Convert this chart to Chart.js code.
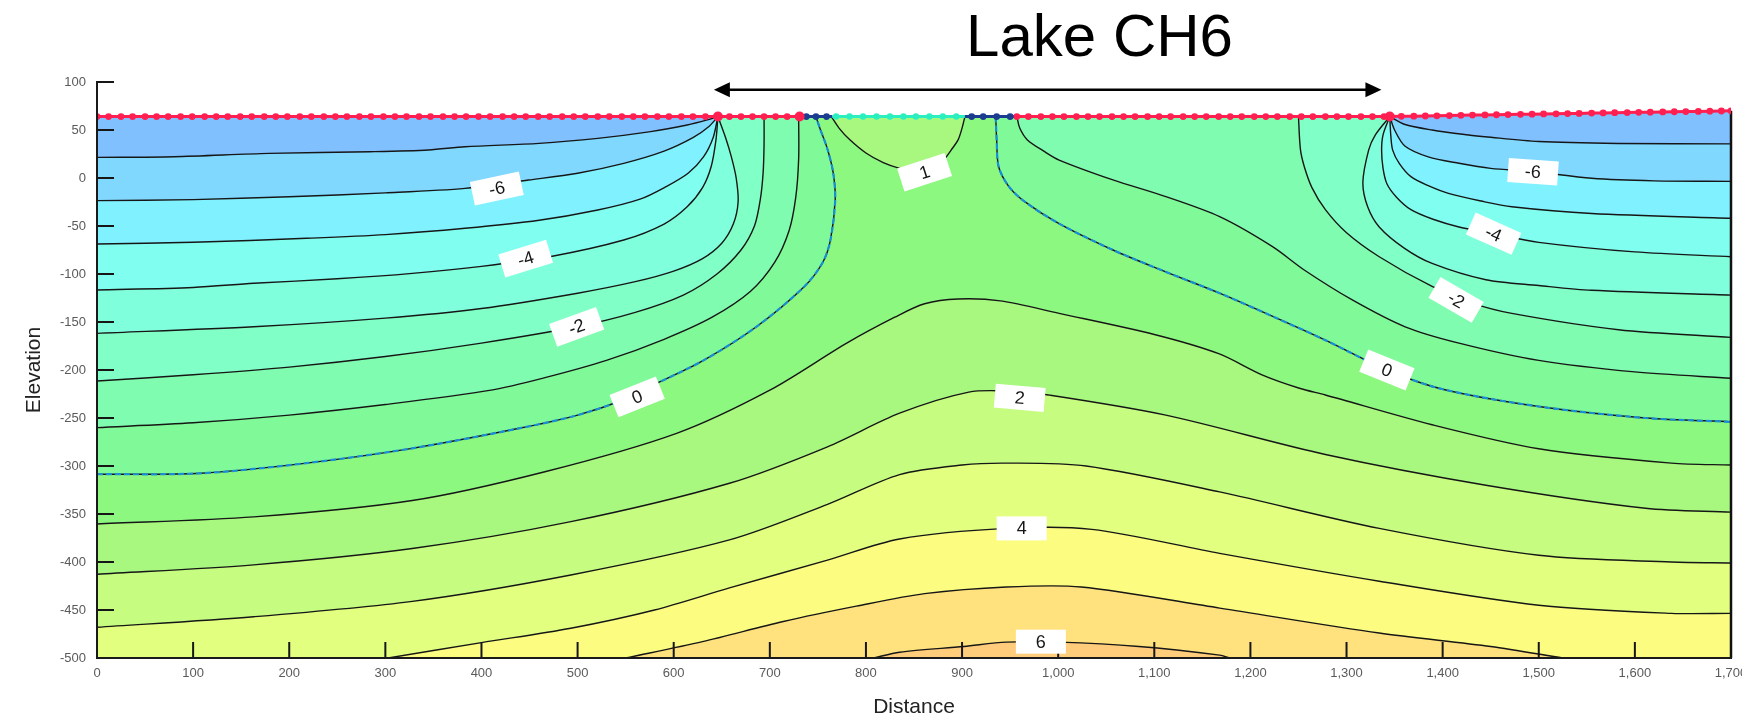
<!DOCTYPE html>
<html>
<head>
<meta charset="utf-8">
<title>Lake CH6</title>
<script src="https://cdn.jsdelivr.net/npm/chart.js@4.4.1/dist/chart.umd.min.js"></script>
<style>
  html, body { margin: 0; padding: 0; background: #ffffff; }
  #wrap { width: 1742px; height: 721px; }
  canvas { display: block; }
</style>
</head>
<body>
<div id="wrap"><canvas id="section" width="1742" height="721"></canvas></div>
<script>
// ---------------------------------------------------------------------------
// Cross-section geometry (distance, elevation)
// ---------------------------------------------------------------------------
const SURFACE_ELEV = 64;                 // flat ground / lake bed elevation
const DOMAIN_BOTTOM = -500;
const DOMAIN_RIGHT = 1700;

// surface mesh nodes on the flat part of the ground line
const redWestNodes = [0, 12, 25, 37, 50, 62, 74, 87, 99, 112, 124, 136, 149, 161, 174, 186, 198, 211, 223, 236,
  248, 260, 273, 285, 298, 310, 322, 335, 347, 360, 372, 384, 397, 409, 422, 434, 446, 459, 471, 484, 496, 508,
  521, 533, 546, 558, 570, 583, 595, 608, 620, 633, 646, 658, 670, 682, 694, 706, 718, 731];
const darkBlueWestNodes = [738, 748, 759];
const cyanNodes = [769, 783, 797, 811, 825, 839, 852, 866, 880, 894];
const darkBlueEastNodes = [910, 922, 936, 950];
const redEastNodes = [957, 969, 982, 994, 1006, 1019, 1031, 1043, 1056, 1068, 1080, 1093, 1105, 1117, 1130, 1142,
  1154, 1167, 1179, 1191, 1204, 1216, 1228, 1241, 1253, 1265, 1278, 1290, 1302, 1315, 1327, 1339, 1345];
// nodes where the ground rises towards the east edge
const risingNodes = [[1357, 64.2], [1370, 64.4], [1382, 64.6], [1394, 64.8], [1407, 65.0], [1419, 65.3],
  [1431, 65.5], [1444, 65.7], [1456, 65.9], [1468, 66.1], [1481, 66.3], [1493, 66.5], [1505, 66.7], [1518, 66.9],
  [1530, 67.1], [1542, 67.3], [1555, 67.6], [1567, 67.8], [1579, 68.0], [1592, 68.2], [1604, 68.4], [1616, 68.6],
  [1629, 68.8], [1641, 69.0], [1653, 69.2], [1666, 69.4], [1678, 69.6], [1690, 69.8], [1700, 70]];
const largeNodes = [646, 731, 1345];
// surface stretches: red | dark blue | cyan | dark blue | red
const stretchBounds = [731, 765, 903, 957];

// ---------------------------------------------------------------------------
// Head contours (distance, elevation)
// ---------------------------------------------------------------------------
const headM7West = [[0, 21.5], [80, 22.2], [179, 25.7], [284, 27.4], [345, 29.2], [383, 32.6], [460, 36.1], [521, 41.3], [576, 48.3], [614, 55.2], [635, 60.5], [646, 64]];
const headM6West = [[0, -23.6], [100, -22.5], [200, -19.5], [300, -15.5], [383, -10.8], [449, -2.1], [500, 5], [548, 15.3], [590, 28], [620, 42], [637, 54], [646, 64]];
const headM5West = [[0, -68.7], [100, -67], [218, -62.8], [300, -59], [383, -52.4], [460, -44], [521, -33.3], [565, -22], [592, -9], [615, 5], [631, 22], [641, 42], [646, 64]];
const headM4West = [[0, -116.7], [100, -114], [163, -109.7], [250, -105], [328, -99.3], [400, -92], [471, -82], [548, -64.6], [590, -48], [614, -30], [630, -10], [639, 12], [644, 40], [646, 64]];
const headM3West = [[0, -161.8], [163, -155], [300, -146], [400, -136], [500, -120], [560, -108], [600, -97], [630, -84], [650, -68], [662, -48], [667, -25], [665, 0], [660, 22], [654, 42], [646, 64]];
const headM2West = [[0, -211.5], [100, -205], [200, -197], [300, -186], [400, -172], [499, -155], [560, -140], [610, -122], [645, -100], [670, -75], [684, -50], [690, -23], [693, 5], [694, 35], [694, 64]];
const headM1West = [[0, -260], [100, -255], [200, -247], [300, -236], [410, -221], [466, -208], [530, -190], [590, -168], [640, -145], [680, -118], [705, -88], [720, -55], [727, -20], [730, 20], [730, 64]];
const headZeroWest = [[0, -308.6], [108, -307.6], [218, -297], [328, -281.6], [438, -261], [500, -247], [548, -231], [576, -217], [631, -190], [686, -155], [736, -113], [755, -88], [763, -65], [768, -23], [766, 5], [760, 30], [752, 52], [748, 64]];

const headZeroEast = [[935, 64], [936, 40], [938, 12], [948, -8], [963, -23], [1000, -47], [1057, -75], [1110, -97], [1168, -120], [1225, -145], [1278, -169], [1342, -200], [1400, -220], [1500, -238], [1611, -250], [1700, -254]];
const headM1East = [[957, 64], [960, 52], [968, 39.6], [985, 28], [1001, 18.7], [1057, -2], [1112, -19.4], [1168, -40.3], [1223, -71.5], [1256, -95.8], [1306, -127], [1361, -155], [1417, -172], [1500, -190], [1600, -202], [1700, -208.6]];
const headM2East = [[1250, 64], [1252, 30], [1256, 12], [1264, -10], [1278, -33], [1300, -57], [1334, -82], [1389, -113], [1430, -130], [1472, -141], [1583, -158], [1700, -166]];
const headM3East = [[1345, 64], [1330, 45], [1323, 29], [1317, -5], [1322, -30], [1334, -51], [1360, -73], [1389, -89], [1445, -106], [1500, -112], [1555, -117], [1700, -122]];
const headM4East = [[1345, 64], [1338, 45], [1336.5, 29], [1338, 10], [1342, -6], [1352, -20], [1367, -33], [1390, -43], [1417, -51], [1453, -58], [1500, -67], [1600, -77], [1700, -82]];
const headM5East = [[1345, 64], [1346, 45], [1348, 29], [1355, 15], [1367, 1.4], [1385, -8], [1406, -16], [1440, -24], [1472, -30], [1555, -37], [1700, -42]];
const headM6East = [[1345, 64], [1350, 50], [1361, 33], [1385, 22], [1417, 15.3], [1450, 10], [1494, 6.6], [1555, -0.3], [1620, -3], [1700, -3.5]];
const headM7East = [[1345, 64], [1360, 56], [1389, 50], [1425, 45], [1444, 43], [1500, 38], [1583, 36], [1700, 35.5]];

const headOneBowl = [[764, 64], [772, 52], [783, 40], [800, 26], [818, 16], [835, 10], [850, 7], [861, 6], [872, 10], [882, 20], [890, 31], [896, 40], [900, 52], [903, 64]];
const headOne = [[0, -360.4], [163, -353], [328, -336], [466, -306], [603, -266], [700, -221], [780, -172], [830, -145], [861, -131], [896, -126], [940, -128], [1001, -141], [1100, -163], [1167, -183], [1212, -205], [1251, -219], [1278, -226], [1389, -257], [1500, -282], [1638, -297], [1700, -299]];
const headTwo = [[0, -412.8], [163, -403], [328, -386], [493, -358], [658, -318], [760, -280], [835, -245], [907, -223], [950, -222], [990, -226], [1112, -247], [1278, -288], [1445, -320], [1611, -344], [1700, -348]];
const headThree = [[0, -468], [163, -457], [328, -441], [493, -413.5], [658, -377], [760, -340], [835, -309], [900, -299], [946, -297], [1029, -300], [1168, -327], [1334, -365], [1500, -393], [1638, -400], [1700, -401]];
const headFour = [[303, -500], [400, -484], [493, -469], [580, -450], [658, -427], [760, -398], [835, -376], [946, -365], [1035, -366], [1168, -391], [1334, -420], [1500, -445], [1638, -453.5], [1700, -453.5]];
const headFive = [[550, -500], [630, -483], [714, -462], [790, -446], [861, -433], [946, -426], [1024, -426], [1168, -448], [1334, -474], [1450, -488], [1525, -500]];
const headSix = [[808, -500], [835, -494], [902, -488], [946, -483.5], [1001, -483.5], [1084, -488], [1168, -497], [1178, -500]];

// contour labels
const labelTexts = ['-6', '-4', '-2', '0', '1', '2', '4', '6', '-6', '-4', '-2', '0'];
const labelDist = [416, 446, 499, 562, 861, 960, 962, 982, 1494, 1453, 1414, 1342];
const labelElev = [-11, -84, -155, -228, 6, -229, -365, -483, 6.6, -58, -127, -200];
const labelAngle = [-12, -17, -20, -22, -18, 5, 0, 0, 4, 24, 30, 22];

// lake extent marker
const lakeSpan = [641.8, 1336.3];
const lakeArrowElev = 92;
const lakeTitleDist = 1043;

// band colours, lowest head first
const bandColours = ['#80c0ff', '#80d8ff', '#80f1ff', '#80fff0', '#80ffdc', '#80ffc6', '#80fcb0',
  '#80f998', '#8cf880', '#a8f880', '#c6fc80', '#e2ff80', '#fbfc80', '#ffe27e', '#ffcc7c'];

// ---------------------------------------------------------------------------
const TENSION = 0.3;
const FONT = "'Liberation Sans', Arial, Helvetica, sans-serif";
const toXY = arr => arr.map(([x, y]) => ({x, y}));
const flat = xs => xs.map(x => ({x, y: SURFACE_ELEV}));
const CORNER_E = [[DOMAIN_RIGHT, DOMAIN_BOTTOM]];
const CORNER_W = [[0, DOMAIN_BOTTOM]];

// closed outline made of several pieces, each end doubled so joins stay sharp
function outline(parts) {
  const out = [];
  parts.forEach(p => { out.push(p[0]); p.forEach(q => out.push(q)); out.push(p[p.length - 1]); });
  return toXY(out);
}
function area(parts, colour) {
  return {data: outline(parts), showLine: true, fill: 'shape', backgroundColor: colour,
    borderColor: 'rgba(0,0,0,0)', borderWidth: 0, pointRadius: 0, tension: TENSION};
}
function contour(arr, extra) {
  return Object.assign({data: toXY(arr), showLine: true, fill: false, borderColor: '#161616',
    borderWidth: 1.4, pointRadius: 0, tension: TENSION}, extra || {});
}
function surfaceLine(pts, colour) {
  return {data: pts, showLine: true, fill: false, borderColor: colour, borderWidth: 3,
    pointRadius: 0, tension: 0};
}
function nodes(pts, colour, r) {
  return {data: pts, showLine: false, pointRadius: r, pointBackgroundColor: colour,
    pointBorderWidth: 0, pointHoverRadius: r};
}

const datasets = [];
// ground region, lowest band
datasets.push(area([[[0, SURFACE_ELEV]], [[1345, SURFACE_ELEV]], [[DOMAIN_RIGHT, 70]], CORNER_E, CORNER_W], bandColours[0]));
// regions above each head level, painted upward
datasets.push(area([headM7West, headM7East, CORNER_E, CORNER_W], bandColours[1]));
datasets.push(area([headM6West, headM6East, CORNER_E, CORNER_W], bandColours[2]));
datasets.push(area([headM5West, headM5East, CORNER_E, CORNER_W], bandColours[3]));
datasets.push(area([headM4West, headM4East, CORNER_E, CORNER_W], bandColours[4]));
datasets.push(area([headM3West, headM3East, CORNER_E, CORNER_W], bandColours[5]));
datasets.push(area([headM2West, headM2East, CORNER_E, CORNER_W], bandColours[6]));
datasets.push(area([headM1West, headM1East, CORNER_E, CORNER_W], bandColours[7]));
datasets.push(area([headZeroWest, headZeroEast, CORNER_E, CORNER_W], bandColours[8]));
datasets.push(area([headOne, CORNER_E, CORNER_W], bandColours[9]));
datasets.push(area([headOneBowl], bandColours[9]));
datasets.push(area([headTwo, CORNER_E, CORNER_W], bandColours[10]));
datasets.push(area([headThree, CORNER_E, CORNER_W], bandColours[11]));
datasets.push(area([headFour, CORNER_E], bandColours[12]));
datasets.push(area([headFive], bandColours[13]));
datasets.push(area([headSix], bandColours[14]));

// contour lines
[headM7West, headM6West, headM5West, headM4West, headM3West, headM2West, headM1West, headZeroWest,
 headZeroEast, headM1East, headM2East, headM3East, headM4East, headM5East, headM6East, headM7East,
 headOneBowl, headOne, headTwo, headThree, headFour, headFive, headSix].forEach(c => datasets.push(contour(c)));
// zero-head line drawn dashed blue over its black trace
[headZeroWest, headZeroEast].forEach(c => datasets.push(contour(c, {borderColor: '#1b8fd4', borderWidth: 2.2, borderDash: [6, 3]})));

// east boundary of the section
datasets.push({data: toXY([[DOMAIN_RIGHT, 70], [DOMAIN_RIGHT, DOMAIN_BOTTOM]]), showLine: true, fill: false,
  borderColor: '#111', borderWidth: 2.5, pointRadius: 0, clip: false});

// ground surface and lake bed
const RED = '#ff1f50', DARK_BLUE = '#1b3c8f', CYAN = '#2cefc0';
datasets.push(surfaceLine(flat([0, stretchBounds[0]]), RED));
datasets.push(surfaceLine(flat([stretchBounds[0], stretchBounds[1]]), DARK_BLUE));
datasets.push(surfaceLine(flat([stretchBounds[1], stretchBounds[2]]), CYAN));
datasets.push(surfaceLine(flat([stretchBounds[2], stretchBounds[3]]), DARK_BLUE));
datasets.push(surfaceLine(flat([stretchBounds[3], 1345]).concat(toXY(risingNodes)), RED));
datasets.push(nodes(flat(redWestNodes).concat(flat(redEastNodes), toXY(risingNodes)), RED, 3.4));
datasets.push(nodes(flat(darkBlueWestNodes).concat(flat(darkBlueEastNodes)), DARK_BLUE, 3.4));
datasets.push(nodes(flat(cyanNodes), CYAN, 3.2));
datasets.push(nodes(flat(largeNodes), RED, 5));

// later entries paint on top
datasets.forEach((d, i) => { d.order = datasets.length - i; });

// ---------------------------------------------------------------------------
// plugins: inward tick marks, contour labels, lake title and arrow
// ---------------------------------------------------------------------------
const innerTicks = {
  id: 'innerTicks',
  afterDatasetsDraw(chart) {
    const {ctx, chartArea: a, scales: {x, y}} = chart;
    ctx.save();
    ctx.strokeStyle = '#161616';
    ctx.lineWidth = 2;
    y.ticks.forEach(t => {
      if (t.value <= DOMAIN_BOTTOM) return;
      const py = y.getPixelForValue(t.value);
      ctx.beginPath(); ctx.moveTo(a.left, py); ctx.lineTo(a.left + 17, py); ctx.stroke();
    });
    x.ticks.forEach(t => {
      if (t.value <= 0 || t.value >= DOMAIN_RIGHT) return;
      const px = x.getPixelForValue(t.value);
      ctx.beginPath(); ctx.moveTo(px, a.bottom); ctx.lineTo(px, a.bottom - 16); ctx.stroke();
    });
    ctx.restore();
  }
};

const contourLabels = {
  id: 'contourLabels',
  afterDatasetsDraw(chart) {
    const {ctx, scales: {x, y}} = chart;
    ctx.save();
    labelTexts.forEach((txt, i) => {
      const px = x.getPixelForValue(labelDist[i]);
      const py = y.getPixelForValue(labelElev[i]);
      ctx.save();
      ctx.translate(px, py);
      ctx.rotate(labelAngle[i] * Math.PI / 180);
      ctx.fillStyle = '#ffffff';
      ctx.fillRect(-25, -12, 50, 24);
      ctx.fillStyle = '#161616';
      ctx.font = '18px ' + FONT;
      ctx.textAlign = 'center';
      ctx.textBaseline = 'middle';
      ctx.fillText(txt, 0, 1);
      ctx.restore();
    });
    ctx.restore();
  }
};

const lakeMarker = {
  id: 'lakeMarker',
  afterDraw(chart) {
    const {ctx, scales: {x, y}} = chart;
    const x0 = x.getPixelForValue(lakeSpan[0]);
    const x1 = x.getPixelForValue(lakeSpan[1]);
    const py = y.getPixelForValue(lakeArrowElev);
    ctx.save();
    ctx.strokeStyle = '#000';
    ctx.fillStyle = '#000';
    ctx.lineWidth = 2.4;
    ctx.beginPath(); ctx.moveTo(x0 + 12, py); ctx.lineTo(x1 - 12, py); ctx.stroke();
    ctx.beginPath(); ctx.moveTo(x0, py); ctx.lineTo(x0 + 16, py - 7.5); ctx.lineTo(x0 + 16, py + 7.5); ctx.closePath(); ctx.fill();
    ctx.beginPath(); ctx.moveTo(x1, py); ctx.lineTo(x1 - 16, py - 7.5); ctx.lineTo(x1 - 16, py + 7.5); ctx.closePath(); ctx.fill();
    ctx.font = '60px ' + FONT;
    ctx.textAlign = 'center';
    ctx.textBaseline = 'alphabetic';
    ctx.fillText('Lake CH6', x.getPixelForValue(lakeTitleDist), 56);
    ctx.restore();
  }
};

// ---------------------------------------------------------------------------
const tickFont = {family: FONT, size: 13};
new Chart(document.getElementById('section'), {
  type: 'scatter',
  data: {datasets},
  options: {
    responsive: false,
    animation: false,
    devicePixelRatio: 1,
    layout: {padding: {left: 0, right: 11, top: 82, bottom: 0}},
    plugins: {legend: {display: false}, tooltip: {enabled: false}},
    events: [],
    scales: {
      x: {
        type: 'linear', min: 0, max: DOMAIN_RIGHT,
        afterFit(s) { s.height = 63; s.paddingLeft = 0; s.paddingRight = 0; },
        ticks: {stepSize: 100, color: '#5a5a5a', font: tickFont, padding: 8, maxRotation: 0, autoSkip: false},
        grid: {display: false, drawTicks: false},
        border: {display: true, color: '#1a1a1a', width: 2, z: 1},
        title: {display: true, text: 'Distance', color: '#222', font: {family: FONT, size: 21}, padding: {top: 0, bottom: 1}}
      },
      y: {
        type: 'linear', min: DOMAIN_BOTTOM, max: 100,
        afterFit(s) { s.width = 97; s.paddingTop = 0; s.paddingBottom = 0; },
        ticks: {stepSize: 50, color: '#5a5a5a', font: tickFont, padding: 11},
        grid: {display: false, drawTicks: false},
        border: {display: true, color: '#1a1a1a', width: 2, z: 1},
        title: {display: true, text: 'Elevation', color: '#222', font: {family: FONT, size: 21}, padding: {top: 22, bottom: 0}}
      }
    }
  },
  plugins: [innerTicks, contourLabels, lakeMarker]
});
</script>
</body>
</html>
